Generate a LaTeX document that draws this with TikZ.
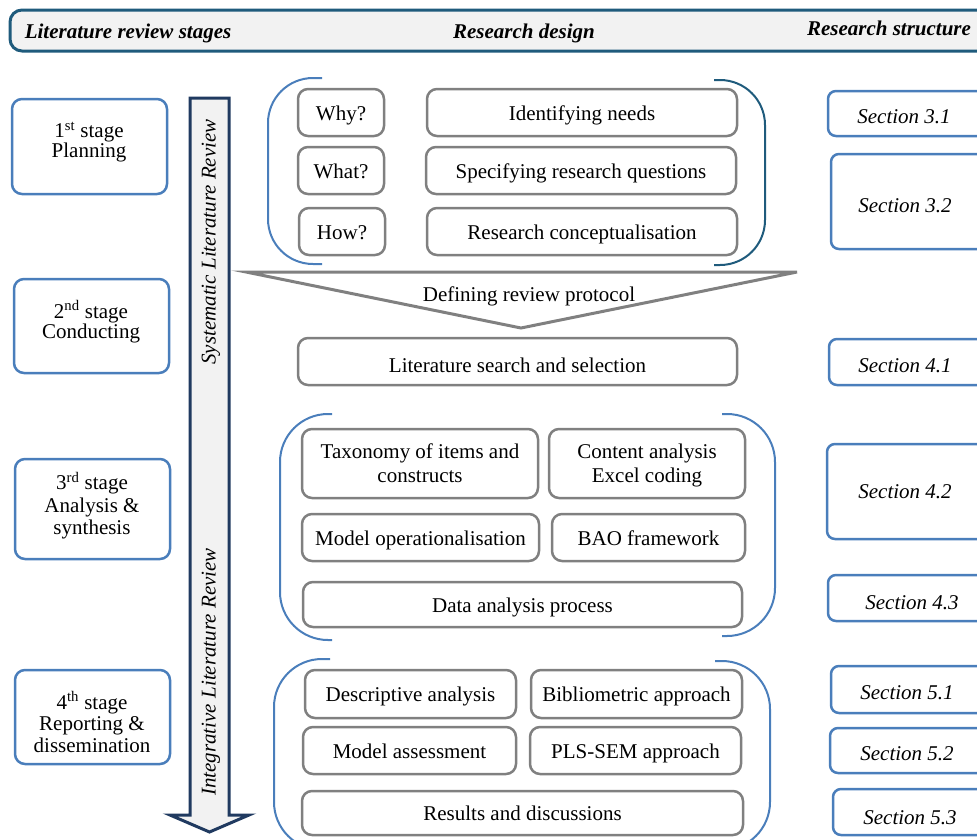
\documentclass[tikz,border=0pt]{standalone}
\usepackage{fontspec}
\setmainfont{Liberation Serif}
\definecolor{blueS}{HTML}{4A7EBB}
\definecolor{tealH}{HTML}{1F5B7C}
\definecolor{navyA}{HTML}{203A60}
\definecolor{grayB}{HTML}{808080}
\definecolor{fillG}{HTML}{F2F2F2}
\begin{document}
\begin{tikzpicture}[x=1pt,y=-1pt,
  txt/.style={font=\fontsize{21}{24}\selectfont, align=center, inner sep=0pt},
  gbox/.style={txt, draw=grayB, line width=2.5pt, rounded corners=10pt, fill=white},
  one/.style={text height=15pt, text depth=0pt},
  stagebox/.style={draw=blueS, line width=2.5pt, rounded corners=10pt, fill=white, inner sep=0pt},
  secbox/.style={draw=blueS, line width=2.5pt, rounded corners=8pt, fill=white, inner sep=0pt},
  sectxt/.style={txt, font=\fontsize{21}{24}\selectfont\itshape},
  hdr/.style={txt, font=\fontsize{21}{24}\selectfont\bfseries\itshape},
  brk/.style={line width=2pt},
]
\useasboundingbox (0,0) rectangle (977,839);

% header
\node[draw=tealH, fill=fillG, line width=3pt, rounded corners=12pt, minimum width=985pt, minimum height=41pt, inner sep=0pt] (header) at (502.5,30.5) {};
\node[hdr] (h1) at (128,33) {Literature review stages};
\node[hdr] (h2) at (524,33) {Research design};
\node[hdr] (h3) at (889,28) {Research structure};

% stage boxes
\node[stagebox, minimum width=155pt, minimum height=95pt] (st1) at (89.5,146.5) {};
\node[stagebox, minimum width=155pt, minimum height=94pt] (st2) at (91.5,326) {};
\node[stagebox, minimum width=155pt, minimum height=100pt] (st3) at (92.5,509) {};
\node[stagebox, minimum width=155pt, minimum height=94pt] (st4) at (92.5,717) {};
\node[txt, font=\fontsize{21}{20}\selectfont] (st1t) at (89,142) {1\textsuperscript{st} stage\\Planning};
\node[txt, font=\fontsize{21}{20}\selectfont] (st2t) at (91,321.5) {2\textsuperscript{nd} stage\\Conducting};
\node[txt, font=\fontsize{21}{22.5}\selectfont] (st3t) at (92,505.5) {3\textsuperscript{rd} stage\\Analysis \&\\synthesis};
\node[txt, font=\fontsize{21}{21.5}\selectfont] (st4t) at (92,722) {4\textsuperscript{th} stage\\Reporting \&\\dissemination};

% vertical arrow
\draw[draw=navyA, fill=fillG, line width=3pt, line join=miter]
  (190,98) -- (229,98) -- (229,815) -- (249,815) -- (209.5,832) -- (170,815) -- (190,815) -- cycle;
\node[txt, font=\fontsize{21}{24}\selectfont\itshape, rotate=90] (slr) at (211,242) {Systematic Literature Review};
\node[txt, font=\fontsize{21}{24}\selectfont\itshape, rotate=90] (ilr) at (211,672) {Integrative Literature Review};

% group 1 brackets
\draw[brk, draw=blueS, rounded corners=45pt] (322,78) -- (268,78) -- (268,264) -- (322,264);
\draw[brk, draw=tealH, rounded corners=45pt] (714,80) -- (765,80) -- (765,265) -- (714,265);

\node[gbox, one, minimum width=86pt, minimum height=47pt] (why) at (341,112.5) {Why?};
\node[gbox, one, minimum width=86pt, minimum height=47pt] (what) at (341,170.5) {What?};
\node[gbox, one, minimum width=86pt, minimum height=47pt] (how) at (342,231.5) {How?};
\node[gbox, one, minimum width=310pt, minimum height=47pt] (needs) at (582,112.5) {Identifying needs};
\node[gbox, one, minimum width=310pt, minimum height=47pt] (rq) at (581,170.5) {Specifying research questions};
\node[gbox, one, minimum width=310pt, minimum height=47pt] (concept) at (582,231.5) {Research conceptualisation};

% funnel
\coordinate (fl) at (246,272);
\coordinate (fr) at (797,272);
\coordinate (fb) at (521,328);
\draw[draw=grayB, line width=3pt, line join=miter] (fl) -- (fr) -- (fb) -- cycle;
\node[txt, one] (protocol) at (529,294) {Defining review protocol};

\node[gbox, text height=22pt, text depth=0pt, minimum width=439pt, minimum height=47pt] (search) at (517.5,361.5) {Literature search and selection};

% group 3 brackets
\draw[brk, draw=blueS, rounded corners=48pt] (332,414) -- (280,414) -- (280,640) -- (332,640);
\draw[brk, draw=blueS, rounded corners=48pt] (722,414) -- (775,414) -- (775,636) -- (722,636);

\node[gbox, text depth=-3pt, minimum width=236pt, minimum height=69pt] (tax) at (420,463.5) {Taxonomy of items and\\constructs};
\node[gbox, text depth=-3pt, minimum width=196pt, minimum height=69pt] (content) at (647,463.5) {Content analysis\\Excel coding};
\node[gbox, one, minimum width=237pt, minimum height=47pt] (modop) at (420.5,537.5) {Model operationalisation};
\node[gbox, one, minimum width=193pt, minimum height=47pt] (bao) at (648.5,537.5) {BAO framework};
\node[gbox, one, minimum width=439pt, minimum height=45pt] (data) at (522.5,604.5) {Data analysis process};

% group 4 brackets
\draw[brk, draw=blueS, rounded corners=48pt] (330,659) -- (274,659) -- (274,850) -- (330,850);
\draw[brk, draw=blueS, rounded corners=48pt] (715,661) -- (770,661) -- (770,850) -- (715,850);

\node[gbox, one, minimum width=211pt, minimum height=48pt] (desc) at (410.5,694) {Descriptive analysis};
\node[gbox, one, minimum width=211pt, minimum height=48pt] (biblio) at (636.5,694) {Bibliometric approach};
\node[gbox, one, minimum width=213pt, minimum height=47pt] (modass) at (409.5,750.5) {Model assessment};
\node[gbox, one, minimum width=211pt, minimum height=47pt] (pls) at (635.5,750.5) {PLS-SEM approach};
\node[gbox, one, minimum width=441pt, minimum height=44pt] (results) at (522.5,813) {Results and discussions};

% section boxes
\node[secbox, minimum width=167pt, minimum height=45pt] (b31) at (911.5,113.5) {};
\node[secbox, minimum width=164pt, minimum height=95pt] (b32) at (913,201.5) {};
\node[secbox, minimum width=166pt, minimum height=46pt] (b41) at (912,362) {};
\node[secbox, minimum width=168pt, minimum height=95pt] (b42) at (911,491.5) {};
\node[secbox, minimum width=167pt, minimum height=46pt] (b43) at (911.5,598) {};
\node[secbox, minimum width=164pt, minimum height=47pt] (b51) at (913,689.5) {};
\node[secbox, minimum width=165pt, minimum height=45pt] (b52) at (912.5,750.5) {};
\node[secbox, minimum width=162pt, minimum height=46pt] (b53) at (914,812) {};
\node[sectxt] (t31) at (904,117) {Section 3.1};
\node[sectxt] (t32) at (905,206) {Section 3.2};
\node[sectxt] (t41) at (905,366) {Section 4.1};
\node[sectxt] (t42) at (905,492) {Section 4.2};
\node[sectxt] (t43) at (912,603) {Section 4.3};
\node[sectxt] (t51) at (907,693) {Section 5.1};
\node[sectxt] (t52) at (907,754) {Section 5.2};
\node[sectxt] (t53) at (910,818) {Section 5.3};
\end{tikzpicture}
\end{document}
